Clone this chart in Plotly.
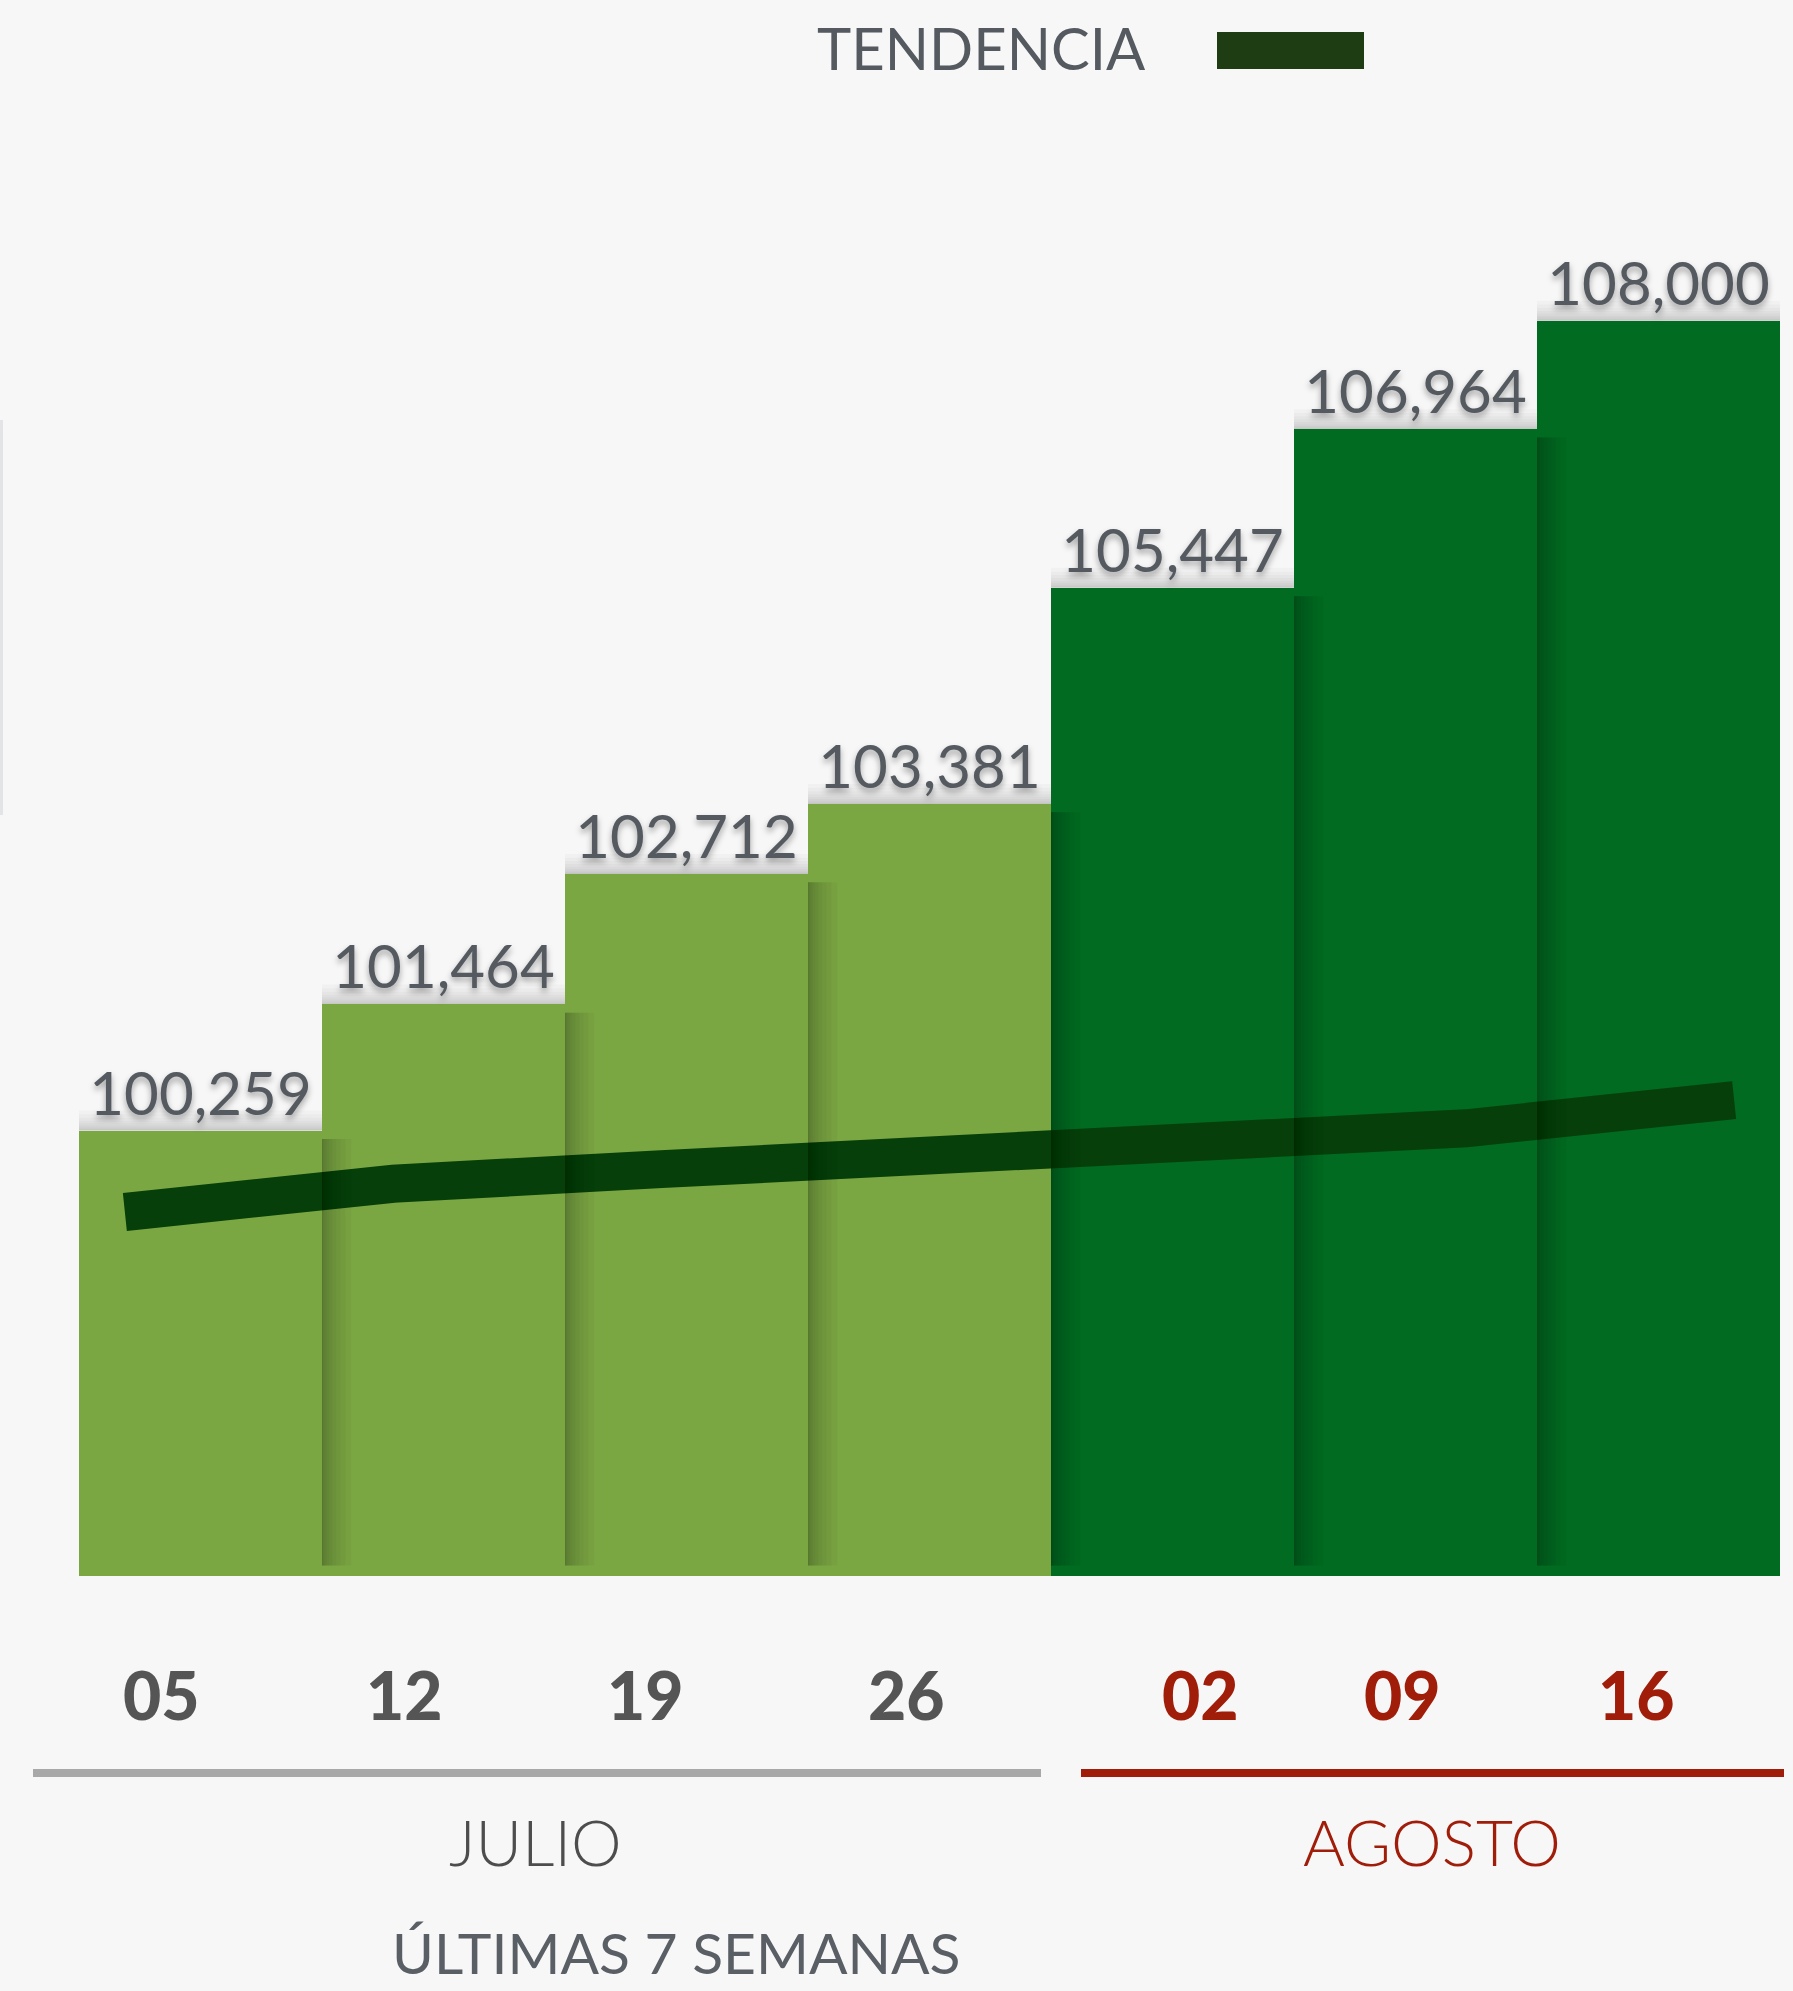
import plotly.graph_objects as go

# ---------------- data ----------------
weeks = ["05", "12", "19", "26", "02", "09", "16"]
week_month = ["JULIO", "JULIO", "JULIO", "JULIO", "AGOSTO", "AGOSTO", "AGOSTO"]
values = [100259, 101464, 102712, 103381, 105447, 106964, 108000]
trend = [99480, 99750, 99890, 100010, 100080, 100280, 100550]
months = ["JULIO", "AGOSTO"]
legend_label = "TENDENCIA"
footer = "ÚLTIMAS 7 SEMANAS"

# ---------------- styling ----------------
W, H = 1793, 1991
L, R, T, B = 79, 1780, 130, 1576          # plot area in pixels
Y_MIN = 96000
PX_PER_UNIT = 0.1046
Y_MAX = Y_MIN + (B - T) / PX_PER_UNIT

BG = "#f7f7f7"
LIGHT_GREEN = "#7ba743"
DARK_GREEN = "#006b21"
TREND_COLOR = "#063f0a"
SWATCH = "#1e3d12"
GRAY_TXT = "#555a61"
DATE_GRAY = "#555555"
RED = "#a01d0a"
FONT = "Lato, 'Open Sans', sans-serif"

month_color = {"JULIO": LIGHT_GREEN, "AGOSTO": DARK_GREEN}
month_text = {"JULIO": DATE_GRAY, "AGOSTO": RED}
month_line = {"JULIO": "#a8a8a8", "AGOSTO": RED}


def pxx(x):
    return (x - L) / (R - L)


def pxy(y):
    return (B - y) / (B - T)


n = len(values)
xs = list(range(n))

fig = go.Figure()
fig.add_trace(go.Bar(
    x=xs, y=values,
    marker=dict(color=[month_color[m] for m in week_month], line=dict(width=0)),
    text=[f"{v:,}" for v in values],
    textposition="outside",
    constraintext="none",
    cliponaxis=False,
    textfont=dict(family=FONT, size=60, color=GRAY_TXT,
                  shadow="0px 4px 6px rgba(0,0,0,0.35)"),
    showlegend=False, hoverinfo="skip",
))
fig.add_trace(go.Scatter(
    x=xs, y=trend, xaxis="x2", mode="lines",
    line=dict(color=TREND_COLOR, width=38),
    name=legend_label, showlegend=False, hoverinfo="skip",
))

shapes = []
# soft shadows: each bar casts a shadow to its right, and a gray band above its top
layers = 10
sh_w = 0.12                      # bar units
top_h = 20 / PX_PER_UNIT         # data units
for i, v in enumerate(values):
    for k in range(1, layers + 1):
        frac = k / layers
        shapes.append(dict(type="rect", xref="x", yref="y",
                           x0=i + 0.5, x1=i + 0.5 + sh_w * frac * frac,
                           y0=Y_MIN + 100, y1=v - 80,
                           fillcolor="black", opacity=0.03 if i < n - 1 else 0.02,
                           line=dict(width=0), layer="above"))
        shapes.append(dict(type="rect", xref="x", yref="y",
                           x0=i - 0.5, x1=i + 0.5,
                           y0=v, y1=v + top_h * frac * frac,
                           fillcolor="black", opacity=0.025,
                           line=dict(width=0), layer="below"))

# legend swatch
shapes.append(dict(type="rect", xref="paper", yref="paper",
                   x0=pxx(1217), x1=pxx(1364), y0=pxy(69), y1=pxy(32),
                   fillcolor=SWATCH, line=dict(width=0)))
# month underline bars
month_span = {"JULIO": (33, 1041), "AGOSTO": (1081, 1784)}
for m in months:
    x0, x1 = month_span[m]
    shapes.append(dict(type="rect", xref="paper", yref="paper",
                       x0=pxx(x0), x1=pxx(x1), y0=pxy(1777), y1=pxy(1769),
                       fillcolor=month_line[m], line=dict(width=0)))
# faint card edge at far left
shapes.append(dict(type="rect", xref="paper", yref="paper",
                   x0=pxx(0), x1=pxx(3), y0=pxy(815), y1=pxy(420),
                   fillcolor="#e3e4e6", line=dict(width=0)))

annotations = []
annotations.append(dict(xref="paper", yref="paper", x=pxx(981), y=pxy(48),
                        text=legend_label, showarrow=False,
                        xanchor="center", yanchor="middle",
                        font=dict(family=FONT, size=58, color=GRAY_TXT)))
date_px = [161, 404, 645, 906, 1200, 1402, 1636]
for wk, m, px in zip(weeks, week_month, date_px):
    annotations.append(dict(xref="paper", yref="paper", x=pxx(px), y=pxy(1694),
                            text=wk, showarrow=False,
                            xanchor="center", yanchor="middle",
                            font=dict(family=FONT, size=66, weight=900,
                                      color=month_text[m])))
month_px = {"JULIO": 535, "AGOSTO": 1432}
for m in months:
    annotations.append(dict(xref="paper", yref="paper", x=pxx(month_px[m]), y=pxy(1841),
                            text=m, showarrow=False,
                            xanchor="center", yanchor="middle",
                            font=dict(family=FONT, size=64, weight=300,
                                      color="#4d4d4d" if m == "JULIO" else RED)))
annotations.append(dict(xref="paper", yref="paper", x=pxx(676), y=pxy(1952),
                        text=footer, showarrow=False,
                        xanchor="center", yanchor="middle",
                        font=dict(family=FONT, size=57, color="#5a5f66")))

fig.update_layout(
    width=W, height=H,
    margin=dict(l=L, r=W - R, t=T, b=H - B, pad=0),
    paper_bgcolor=BG, plot_bgcolor=BG,
    bargap=0,
    xaxis=dict(range=[-0.5, n - 0.5], visible=False, fixedrange=True),
    xaxis2=dict(range=[-0.171, n - 1 + 0.171], overlaying="x", visible=False,
                fixedrange=True),
    yaxis=dict(range=[Y_MIN, Y_MAX], visible=False, fixedrange=True),
    shapes=shapes,
    annotations=annotations,
    showlegend=False,
)

fig.write_html(
    "out.html",
    config={"displayModeBar": False},
    post_script="document.body.style.margin='0';document.body.style.background='#f7f7f7';"
                "document.documentElement.style.overflow='hidden';",
)
